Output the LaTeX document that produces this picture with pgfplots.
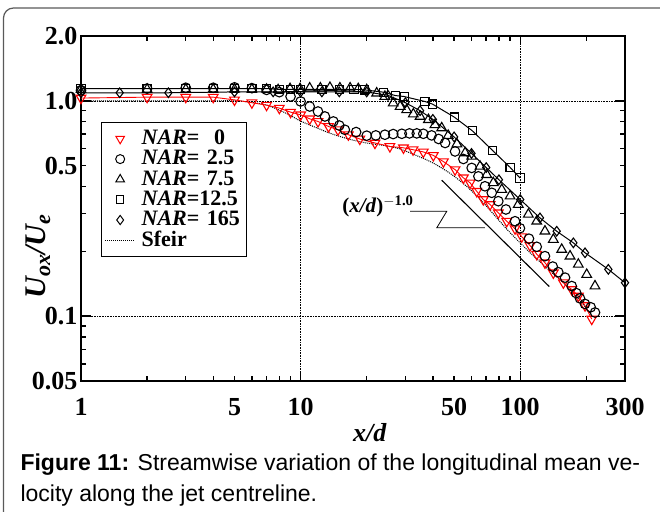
\documentclass[border=0pt]{standalone}
\usepackage{fontspec}
\setmainfont{Liberation Serif}
\newfontfamily\capfont{Liberation Sans}
\usepackage{pgfplots}
\pgfplotsset{compat=1.18}

\pgfplotstableread{
x y
1 1.03
2 1.04
3 1.04
4 1.04
5 1.01
6 0.98
7 0.955
8 0.925
9 0.886
10 0.861
11 0.825
12 0.802
13.4 0.760
14.8 0.734
16.5 0.696
18.6 0.665
21.8 0.637
25.5 0.614
29.4 0.605
32.5 0.593
36.2 0.579
40.2 0.558
44.7 0.522
50.5 0.479
55.1 0.439
59.1 0.416
63.4 0.380
67.9 0.348
72.9 0.330
79.5 0.302
86.8 0.276
94.7 0.255
101.6 0.234
110.8 0.213
118.9 0.194
129.6 0.177
141.5 0.159
157.2 0.143
171.6 0.133
183.9 0.124
197.3 0.112
211.7 0.097
}\narzero

\pgfplotstableread{
x y
1 1.12
2 1.14
3 1.15
4 1.15
5 1.155
6 1.145
7 1.124
8 1.097
9 1.047
10 0.993
11 0.941
12 0.892
12.9 0.846
14.1 0.802
15.0 0.768
15.9 0.734
17.9 0.716
20.0 0.689
22.0 0.691
24.2 0.696
26.4 0.701
28.9 0.703
31.3 0.706
33.8 0.706
36.2 0.703
39.5 0.691
42.5 0.665
45.5 0.637
50.5 0.582
55.1 0.537
60.1 0.488
64.5 0.446
69.1 0.401
74.2 0.374
79.5 0.342
86.1 0.313
94.7 0.276
99.7 0.256
109.6 0.229
118.9 0.210
129.6 0.190
140.6 0.170
149.1 0.160
160 0.151
171.6 0.138
180 0.128
187.1 0.121
197.2 0.114
209.4 0.110
219.1 0.104
}\nartwo

\pgfplotstableread{
x y
1 1.13
2 1.13
3 1.13
4 1.13
5 1.13
6 1.13
7 1.13
7.9 1.124
8.95 1.137
9.94 1.137
11 1.145
12.3 1.145
13.6 1.152
15.1 1.145
16.8 1.145
18.3 1.137
20 1.124
22.2 1.085
24.2 1.047
26.4 0.976
28.4 0.941
30.4 0.908
32.6 0.868
35.0 0.846
38.2 0.817
40.9 0.774
43.9 0.748
47 0.69
51.5 0.63
56.1 0.573
60.1 0.552
65.6 0.496
70.4 0.454
75.4 0.416
82.4 0.387
89.9 0.361
98.0 0.330
108.9 0.297
118.9 0.276
129.6 0.248
141.5 0.227
154.5 0.204
168.6 0.190
183.9 0.174
200.8 0.156
219 0.138
}\narseven

\pgfplotstableread{
x y
1 1.14
2 1.14
3 1.14
4 1.14
5 1.14
6 1.14
7 1.14
8 1.13
9 1.13
10 1.13
12.5 1.13
15 1.13
17.5 1.13
19.6 1.124
23.8 1.097
27 1.058
29.6 1.047
36.8 0.993
39.9 0.965
50.1 0.840
60.5 0.726
75.0 0.587
89.9 0.491
99.8 0.438
}\nartwelve

\pgfplotstableread{
x y
1 1.09
1.5 1.09
2.5 1.09
5 1.10
7.5 1.10
10 1.10
12.5 1.10
15 1.10
20 1.10
25 1.06
30 0.98
35 0.90
40 0.82
50 0.68
60 0.57
70 0.49
80 0.43
100 0.348
123 0.286
146.6 0.248
174.6 0.219
197.3 0.197
251.9 0.165
300 0.143
}\narhundred

\pgfplotstableread{
x y
1 1.0
2 1.0
3 1.0
4 1.0
5 1.0
6 0.985
7 0.955
8 0.905
9 0.855
10 0.805
12 0.745
14 0.70
17 0.66
20 0.637
24 0.62
28 0.60
34 0.555
40 0.515
48 0.46
57 0.401
68 0.336
78 0.287
90 0.244
111 0.197
137 0.162
169 0.133
201 0.108
210 0.102
}\sfeir

\begin{document}
\begin{tikzpicture}
\useasboundingbox (0pt,0pt) rectangle (660pt,511pt);
\begin{scope}
\clip (0pt,0pt) rectangle (660pt,511pt);
\draw[black!65, line width=1.2pt, rounded corners=10pt] (3.5pt,-60pt) -- (3.5pt,503pt) -- (740pt,503pt);
\end{scope}
\begin{axis}[
  at={(81pt,130pt)}, anchor=south west,
  scale only axis, width=544pt, height=345pt,
  xmode=log, ymode=log,
  xmin=1, xmax=300, ymin=0.05, ymax=2,
  axis line style={line width=1.6pt},
  tick align=inside,
  major tick length=5pt,
  tick style={line width=1.4pt, black},
  xtick={1,2,3,4,5,6,7,8,9,10,20,30,40,50,60,70,80,90,100,200,300},
  xticklabels={1,,,,5,,,,,10,,,,50,,,,,100,,300},
  ytick={0.05,0.06,0.07,0.08,0.09,0.1,0.2,0.3,0.4,0.5,0.6,0.7,0.8,0.9,1,2},
  yticklabels={0.05,,,,,0.1,,,,0.5,,,,,1.0,2.0},
  minor tick num=0,
  extra x ticks={10,100}, extra x tick labels={},
  extra x tick style={major tick length=9pt},
  extra y ticks={0.1,1}, extra y tick labels={},
  extra y tick style={major tick length=10pt},
  ticklabel style={font=\fontsize{26}{26}\selectfont\bfseries},
  xticklabel style={yshift=-14pt},
  xlabel={\textbf{\textit{x/d}}},
  xlabel style={at={(axis description cs:0.531,-0.150)}, anchor=center, font=\fontsize{26}{26}\selectfont},
  ylabel={\textbf{\textit{U{\fontsize{22}{22}\selectfont\raisebox{-0.2em}{ox}}/U{\fontsize{22}{22}\selectfont\raisebox{-0.2em}{e}}}}},
  ylabel style={at={(axis description cs:-0.079,0.36)}, anchor=center, font=\fontsize{30}{30}\selectfont},
  clip=false,
  legend image code/.code={\draw[mark repeat=2,mark phase=2,#1] plot coordinates {(0pt,0pt) (15pt,0pt) (30pt,0pt)};},
  legend style={at={(axis description cs:0.0368,0.7507)}, anchor=north west,
    draw=black, line width=1.3pt, inner xsep=3pt, inner ysep=6pt,
    font=\fontsize{22}{22}\selectfont\bfseries,
    nodes={inner sep=1pt, text height=15pt, text depth=3.3pt, text width=101pt},
    column sep=5pt},
  legend cell align=left,
]
\draw[black, densely dotted, line width=0.6pt] (10,0.05) -- (10,2);
\draw[black, densely dotted, line width=0.6pt] (100,0.05) -- (100,2);
\draw[black, densely dotted, line width=0.6pt] (1,0.1) -- (300,0.1);
\draw[black, densely dotted, line width=0.6pt] (1,1) -- (300,1);

\addlegendimage{only marks, red, mark=triangle, mark size=5pt, mark options={rotate=180, line width=1pt}}
\addlegendentry{\textit{NAR}= \ 0}
\addlegendimage{only marks, black, mark=o, mark size=4.5pt, mark options={line width=1pt}}
\addlegendentry{\textit{NAR}= 2.5}
\addlegendimage{only marks, black, mark=triangle, mark size=5pt, mark options={line width=1pt}}
\addlegendentry{\textit{NAR}= 7.5}
\addlegendimage{only marks, black, mark=square, mark size=3.8pt, mark options={line width=1pt}}
\addlegendentry{\textit{NAR}=12.5}
\addlegendimage{only marks, black, mark=diamond, mark size=4.6pt, mark options={line width=1pt}}
\addlegendentry{\textit{NAR}= 165}
\addlegendimage{black, densely dotted, line width=1pt}
\addlegendentry{Sfeir}

\addplot[forget plot, black, densely dotted, line width=1pt, smooth] table {\sfeir};
\addplot[forget plot, red, line width=0.9pt, mark=triangle, mark size=5.6pt, mark options={rotate=180, line width=1.1pt, fill=white, solid}] table {\narzero};
\addplot[forget plot, only marks, black, mark=o, mark size=4.8pt, mark options={line width=1.1pt, fill=white}] table {\nartwo};
\addplot[forget plot, only marks, black, mark=triangle, mark size=5.6pt, mark options={line width=1.1pt, fill=white}] table {\narseven};
\addplot[forget plot, black, line width=1pt, mark=square, mark size=4.1pt, mark options={line width=1.1pt, fill=white}] table {\nartwelve};
\addplot[forget plot, black, line width=1pt, mark=diamond, mark size=4.8pt, mark options={line width=1.1pt, fill=white}] table {\narhundred};

\addplot[forget plot, black, line width=1.1pt] coordinates {(43.9,0.428) (135.7,0.1372)};
\draw[black, line width=0.8pt] (31.5,0.307) -- (46.3,0.307) -- (41.7,0.2574) -- (69.1,0.2574);
\node[font=\fontsize{21}{21}\selectfont\bfseries] at (22.5,0.323) {(\textit{x/d})\textsuperscript{$-$1.0}};
\end{axis}
\node[anchor=base west, font=\capfont\fontsize{23}{23}\selectfont] at (17pt,41pt) {\textbf{Figure 11:} Streamwise variation of the longitudinal mean ve-};
\node[anchor=base west, font=\capfont\fontsize{23}{23}\selectfont] at (17pt,10pt) {locity along the jet centreline.};
\end{tikzpicture}
\end{document}
